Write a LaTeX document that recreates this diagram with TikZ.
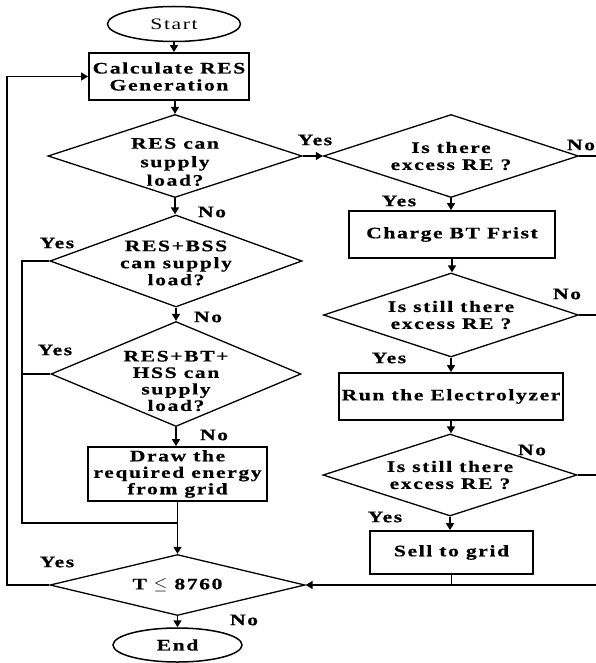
\documentclass[tikz,border=0pt]{standalone}
\usepackage{fontspec}
\setmainfont{Liberation Serif}[LetterSpace=10,FakeStretch=1.35,BoldFeatures={FakeBold=0.6}]
\usetikzlibrary{shapes.geometric,arrows.meta}
\newcommand\fsA{\fontsize{16}{17}\selectfont}
\newcommand\fsB{\fontsize{16}{18.5}\selectfont}
\newcommand\fsC{\fontsize{16}{16.5}\selectfont}
\begin{document}
\begin{tikzpicture}[x=1pt,y=-1pt,line join=miter,
  dia/.style={draw,line width=1.3pt,shape=diamond,inner sep=0pt},
  box/.style={draw,line width=1.8pt,inner sep=0pt,align=center,font=\bfseries\fsA},
  term/.style={draw,ellipse,line width=1.5pt,inner sep=0pt},
  txt/.style={font=\bfseries\fsA,align=center,inner sep=0pt},
  lab/.style={font=\bfseries\fsA,inner sep=0pt},
  arr/.style={line width=1.5pt,-{Triangle[length=7pt,width=8pt]}},
  ln/.style={line width=1.5pt}]
\useasboundingbox (0,0) rectangle (596,663);
% left column
\node[term,minimum width=133,minimum height=35,font=\fsA] (start) at (174,24) {Start};
\node[box,minimum width=160,minimum height=47] (calc) at (169,76.5) {Calculate RES\\Generation};
\node[dia,minimum width=254,minimum height=83,label={[txt,font=\bfseries\fsB,yshift=-6pt]center:{RES can\\supply\\load?}}] (d1) at (175,156) {};
\node[dia,minimum width=252,minimum height=92,label={[txt,yshift=-2pt]center:{RES+BSS\\can supply\\load?}}] (d2) at (176,261) {};
\node[dia,minimum width=250,minimum height=105,label={[txt,font=\bfseries\fsC,yshift=-7pt]center:{RES+BT+\\HSS can\\supply\\load?}}] (d3) at (176,374) {};
\node[box,minimum width=179,minimum height=54,font=\bfseries\fsC] (drawb) at (177.5,474) {Draw the\\required energy\\from grid};
\node[dia,minimum width=255,minimum height=61,label={[txt]center:{T $\leq$ 8760}}] (dT) at (177.5,585) {};
\node[term,minimum width=129,minimum height=34,font=\bfseries\fsA] (endn) at (177.5,645) {End};
% right column
\node[dia,minimum width=255,minimum height=83,label={[txt]center:{Is there\\excess RE ?}}] (r1) at (451,156) {};
\node[box,minimum width=206,minimum height=47] (charge) at (452,234.5) {Charge BT Frist};
\node[dia,minimum width=255,minimum height=84,label={[txt]center:{Is still there\\excess RE ?}}] (r2) at (451,315) {};
\node[box,minimum width=224,minimum height=47] (elec) at (451,396.5) {Run the Electrolyzer};
\node[dia,minimum width=254,minimum height=82,label={[txt]center:{Is still there\\excess RE ?}}] (r3) at (450,475) {};
\node[box,minimum width=163,minimum height=43] (sell) at (451.5,552.5) {Sell to grid};
% coordinates
\coordinate (o1) at (596,156);
\coordinate (o2) at (596,315);
\coordinate (o3) at (596,475);
\coordinate (o4) at (596,585);
\coordinate (j1) at (22,523);
\coordinate (o5) at (7,0);
% connectors
\draw[arr] (start.south) -- (start.south |- calc.north);
\draw[arr] (d1.north |- calc.south) -- (d1.north);
\draw[arr] (d1.south) -- (d1.south |- d2.north);
\draw[arr] (d2.south) -- (d3.north);
\draw[arr] (d3.south) -- (d3.south |- drawb.north);
\draw[arr] (dT.north |- drawb.south) -- (dT.north);
\draw[arr] (dT.south) -- (endn.north);
\draw[ln] (d2.west) -- (d2.west -| j1) -- (j1) -- (j1 -| dT.north);
\draw[ln] (d3.west) -- (d3.west -| j1);
\draw[arr] (dT.west) -- (dT.west -| o5) -- (o5 |- calc.west) -- (calc.west);
\draw[arr] (d1.east) -- (r1.west);
\draw[arr] (r1.south) -- (r1.south |- charge.north);
\draw[arr] (charge.south) -- (charge.south |- r2.north);
\draw[arr] (r2.south) -- (r2.south |- elec.north);
\draw[arr] (elec.south) -- (elec.south |- r3.north);
\draw[arr] (r3.south) -- (r3.south |- sell.north);
\draw[ln] (r1.east) -- (o1);
\draw[ln] (r2.east) -- (o2);
\draw[ln] (r3.east) -- (o3);
\draw[ln] (sell.south) -- (sell.south |- o4);
\draw[arr] (o4) -- (dT.east);
% labels
\node[lab] (n1) at (212,212) {No};
\node[lab] (y1) at (315,140) {Yes};
\node[lab] (n2) at (581,145) {No};
\node[lab] (y2) at (399,201) {Yes};
\node[lab] (n3) at (567,294) {No};
\node[lab] (y3) at (389,358) {Yes};
\node[lab] (n4) at (532,450) {No};
\node[lab] (y4) at (385,517) {Yes};
\node[lab] (y5) at (57,243) {Yes};
\node[lab] (n5) at (208,317) {No};
\node[lab] (y6) at (55,350) {Yes};
\node[lab] (n6) at (214,435) {No};
\node[lab] (y7) at (57,562) {Yes};
\node[lab] (n7) at (244,620) {No};
\end{tikzpicture}
\end{document}
